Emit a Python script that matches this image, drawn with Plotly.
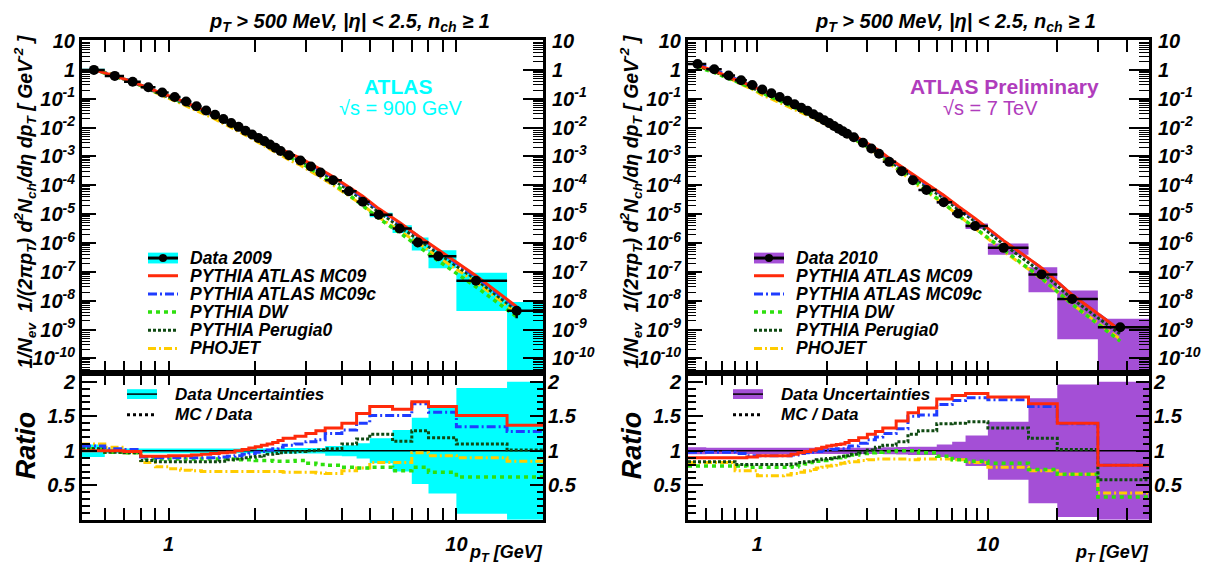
import plotly.graph_objects as go

W, H = 1210, 567

# ---------------- sqrt(s) = 900 GeV (Data 2009) ----------------
edges_900 = [0.5, 0.6, 0.7, 0.8, 0.9, 1.0, 1.1, 1.2, 1.3, 1.4, 1.5, 1.6, 1.7, 1.8, 1.9, 2.0,
             2.1, 2.2, 2.3, 2.4, 2.5, 2.75, 3.0, 3.25, 3.5, 4.0, 4.5, 5.0, 6.0, 7.0, 8.0,
             10.0, 15.0, 20.0]
pt_900 = [0.55, 0.65, 0.75, 0.85, 0.95, 1.05, 1.15, 1.25, 1.35, 1.45, 1.55, 1.65, 1.75, 1.85,
          1.95, 2.05, 2.15, 2.25, 2.35, 2.45, 2.62, 2.87, 3.12, 3.37, 3.73, 4.23, 4.73, 5.37,
          6.35, 7.35, 8.65, 11.7, 16.2]
data_900 = [1.0, 0.62, 0.39, 0.25, 0.165, 0.115, 0.080, 0.055, 0.039, 0.028, 0.020, 0.0145,
            0.0106, 0.0078, 0.0058, 0.0044, 0.0034, 0.0026, 0.0020, 0.00155, 0.0011, 7.2e-4,
            4.5e-4, 2.8e-4, 1.5e-4, 6.2e-5, 2.7e-5, 9.5e-6, 3.2e-6, 1.05e-6, 3.5e-7, 4.9e-8,
            4.5e-9]
syst_900 = [0.09, 0.035, 0.035, 0.035, 0.035, 0.035, 0.035, 0.035, 0.035, 0.035, 0.035, 0.035,
            0.035, 0.035, 0.035, 0.035, 0.035, 0.035, 0.035, 0.035, 0.04, 0.04, 0.04, 0.04,
            0.07, 0.08, 0.11, 0.18, 0.30, 0.48, 0.62, 0.91, 0.999]
stat_900 = [0, 0, 0, 0, 0, 0, 0, 0, 0, 0, 0, 0, 0, 0, 0, 0, 0, 0, 0, 0, 0, 0, 0, 0, 0, 0, 0,
            0.02, 0.03, 0.05, 0.06, 0.12, 0.45]
mc09_900 = [1.00, 1.00, 0.99, 0.92, 0.92, 0.93, 0.93, 0.94, 0.95, 0.96, 0.97, 0.98, 1.00, 1.02,
            1.04, 1.06, 1.08, 1.10, 1.12, 1.15, 1.18, 1.21, 1.25, 1.29, 1.33, 1.40, 1.54, 1.64,
            1.60, 1.71, 1.64, 1.51, 1.37]
mc09c_900 = [1.07, 1.03, 1.02, 0.91, 0.90, 0.90, 0.90, 0.90, 0.90, 0.90, 0.91, 0.92, 0.93, 0.95,
             0.96, 0.98, 0.99, 1.01, 1.03, 1.05, 1.08, 1.10, 1.13, 1.16, 1.25, 1.30, 1.40, 1.51,
             1.51, 1.68, 1.56, 1.35, 1.28]
dw_900 = [1.03, 0.98, 0.97, 0.89, 0.88, 0.88, 0.88, 0.88, 0.88, 0.88, 0.88, 0.88, 0.87, 0.87,
          0.87, 0.86, 0.86, 0.86, 0.85, 0.85, 0.85, 0.86, 0.82, 0.80, 0.79, 0.76, 0.75, 0.76,
          0.71, 0.76, 0.69, 0.62, 0.62]
per0_900 = [1.03, 0.98, 0.97, 0.86, 0.84, 0.84, 0.84, 0.84, 0.84, 0.84, 0.85, 0.87, 0.88, 0.90,
            0.91, 0.92, 0.93, 0.95, 0.96, 0.97, 0.98, 0.99, 1.00, 1.01, 1.03, 1.10, 1.17, 1.24,
            1.14, 1.29, 1.19, 1.10, 1.01]
pho_900 = [1.10, 1.05, 0.97, 0.83, 0.77, 0.74, 0.72, 0.71, 0.70, 0.70, 0.70, 0.70, 0.70, 0.70,
           0.70, 0.70, 0.70, 0.70, 0.70, 0.70, 0.69, 0.69, 0.69, 0.68, 0.67, 0.71, 0.75, 0.83,
           0.83, 0.97, 0.93, 0.90, 0.85]

# ---------------- sqrt(s) = 7 TeV (Data 2010) ----------------
edges_7 = [0.5, 0.6, 0.7, 0.8, 0.9, 1.0, 1.1, 1.2, 1.3, 1.4, 1.5, 1.6, 1.7, 1.8, 1.9, 2.0,
           2.1, 2.2, 2.3, 2.4, 2.5, 2.75, 3.0, 3.25, 3.5, 4.0, 4.5, 5.0, 6.0, 7.0, 8.0,
           10.0, 15.0, 20.0, 30.0, 50.0]
pt_7 = [0.55, 0.65, 0.75, 0.85, 0.95, 1.05, 1.15, 1.25, 1.35, 1.45, 1.55, 1.65, 1.75, 1.85,
        1.95, 2.05, 2.15, 2.25, 2.35, 2.45, 2.62, 2.87, 3.12, 3.37, 3.73, 4.23, 4.73, 5.41,
        6.43, 7.43, 8.8, 11.7, 17.1, 23.2, 37.5]
data_7 = [1.6, 1.05, 0.64, 0.44, 0.30, 0.21, 0.155, 0.115, 0.085, 0.064, 0.049, 0.038, 0.029,
          0.023, 0.018, 0.0143, 0.0114, 0.0092, 0.0075, 0.0061, 0.0046, 0.0030, 0.0019,
          0.00125, 6.5e-4, 3.1e-4, 1.5e-4, 6.9e-5, 2.6e-5, 1.05e-5, 3.9e-6, 6.8e-7, 8.2e-8,
          1.15e-8, 1.2e-9]
syst_7 = [0.05, 0.045, 0.045, 0.045, 0.045, 0.045, 0.045, 0.045, 0.045, 0.045, 0.045, 0.045,
          0.045, 0.045, 0.045, 0.045, 0.045, 0.045, 0.045, 0.045, 0.045, 0.045, 0.045, 0.045,
          0.05, 0.055, 0.06, 0.06, 0.09, 0.13, 0.22, 0.42, 0.76, 0.96, 0.999]
stat_7 = [0, 0, 0, 0, 0, 0, 0, 0, 0, 0, 0, 0, 0, 0, 0, 0, 0, 0, 0, 0, 0, 0, 0, 0, 0, 0, 0,
          0, 0, 0.01, 0.01, 0.02, 0.04, 0.08, 0.15]
mc09_7 = [0.90, 0.90, 0.90, 0.90, 0.91, 0.93, 0.93, 0.93, 0.93, 0.95, 0.97, 0.99, 1.01, 1.03,
          1.05, 1.07, 1.08, 1.09, 1.10, 1.12, 1.15, 1.19, 1.24, 1.28, 1.33, 1.43, 1.55, 1.62,
          1.75, 1.80, 1.83, 1.78, 1.68, 1.40, 0.79]
mc09c_7 = [0.98, 0.98, 0.98, 0.96, 0.93, 0.93, 0.93, 0.93, 0.93, 0.94, 0.96, 0.97, 0.98, 0.99,
           1.00, 1.01, 1.02, 1.03, 1.03, 1.04, 1.07, 1.11, 1.16, 1.20, 1.25, 1.32, 1.50, 1.52,
           1.67, 1.73, 1.77, 1.74, 1.64, 1.39, 0.79]
dw_7 = [0.78, 0.78, 0.78, 0.78, 0.76, 0.76, 0.76, 0.76, 0.76, 0.77, 0.79, 0.81, 0.83, 0.85,
        0.86, 0.88, 0.89, 0.90, 0.91, 0.92, 0.94, 0.96, 0.97, 0.98, 0.99, 1.00, 1.00, 0.97,
        0.92, 0.87, 0.85, 0.82, 0.73, 0.66, 0.33]
per0_7 = [0.84, 0.84, 0.84, 0.80, 0.80, 0.80, 0.80, 0.80, 0.80, 0.81, 0.83, 0.84, 0.85, 0.87,
          0.88, 0.89, 0.90, 0.91, 0.92, 0.93, 0.95, 0.97, 1.01, 1.05, 1.08, 1.13, 1.24, 1.29,
          1.39, 1.40, 1.42, 1.33, 1.18, 1.02, 0.58]
pho_7 = [0.83, 0.83, 0.83, 0.71, 0.71, 0.64, 0.64, 0.64, 0.65, 0.67, 0.69, 0.71, 0.73, 0.75,
         0.76, 0.78, 0.79, 0.81, 0.82, 0.83, 0.84, 0.86, 0.87, 0.88, 0.88, 0.88, 0.87, 0.88,
         0.88, 0.87, 0.83, 0.76, 0.71, 0.66, 0.39]

# y-axis decade labels of the spectrum panels
spec_tickvals = [1e-10, 1e-9, 1e-8, 1e-7, 1e-6, 1e-5, 1e-4, 1e-3, 1e-2, 1e-1, 1, 10]
spec_ticktext = ["10<sup>-10</sup>", "10<sup>-9</sup>", "10<sup>-8</sup>", "10<sup>-7</sup>",
                 "10<sup>-6</sup>", "10<sup>-5</sup>", "10<sup>-4</sup>", "10<sup>-3</sup>",
                 "10<sup>-2</sup>", "10<sup>-1</sup>", "1", "10"]
ratio_tickvals = [0.5, 1.0, 1.5, 2.0]
ratio_ticktext = ["0.5", "1", "1.5", "2"]

# generator styles: (label, colour, dash, width)
RED, BLUE, GREEN, DKGREEN, YELLOW = "#ff2a0a", "#1f3cff", "#2ee00e", "#0f4a12", "#ffcc00"
CYAN, PURPLE, PURPLE_TXT = "#00ffff", "#a44fd6", "#b03cbc"
styles = {
    "mc09": ("PYTHIA ATLAS MC09", RED, "solid", 3),
    "mc09c": ("PYTHIA ATLAS MC09c", BLUE, "9px,3px,2px,3px", 3),
    "dw": ("PYTHIA DW", GREEN, "4px,4px", 3.5),
    "per0": ("PYTHIA Perugia0", DKGREEN, "3px,2px", 3),
    "pho": ("PHOJET", YELLOW, "8px,3px,2px,3px", 3),
}

FONT = "Liberation Sans"
TICKFONT = dict(family=FONT, size=20, color="black", weight="bold", style="italic")


def X(px):
    return px / W


def Y(py):
    return 1 - py / H


def box_outline(edges, centre, rel):
    xs, ys = [], []
    for i, c in enumerate(centre):
        lo, hi = edges[i], edges[i + 1]
        y0, y1 = c * (1 - rel[i]), c * (1 + rel[i])
        xs += [lo, hi, hi, lo, lo, None]
        ys += [y0, y0, y1, y1, y0, None]
    return xs, ys


def minor_log(lo_exp, hi_exp):
    vals = []
    for e in range(lo_exp, hi_exp + 1):
        for m in range(2, 10):
            vals.append(m * 10.0 ** e)
    return vals


fig = go.Figure()

panels = [
    dict(edges=edges_900, pt=pt_900, data=data_900, syst=syst_900, stat=stat_900,
         ratios=dict(mc09=mc09_900, mc09c=mc09c_900, dw=dw_900, per0=per0_900, pho=pho_900),
         band=CYAN, xs=("x", "x2"), ys=("y", "y2")),
    dict(edges=edges_7, pt=pt_7, data=data_7, syst=syst_7, stat=stat_7,
         ratios=dict(mc09=mc09_7, mc09c=mc09c_7, dw=dw_7, per0=per0_7, pho=pho_7),
         band=PURPLE, xs=("x3", "x4"), ys=("y3", "y4")),
]

for p in panels:
    xt, xr = p["xs"]
    yt, yr = p["ys"]
    # total uncertainty boxes on the spectrum
    bx, by = box_outline(p["edges"], p["data"], p["syst"])
    fig.add_trace(go.Scatter(x=bx, y=by, mode="lines", fill="toself", fillcolor=p["band"],
                             line=dict(width=0, color=p["band"]), hoverinfo="skip",
                             showlegend=False, xaxis=xt, yaxis=yt))
    # generator predictions on the spectrum
    for key in ["pho", "per0", "dw", "mc09c", "mc09"]:
        _, col, dash, wid = styles[key]
        mc = [d * r for d, r in zip(p["data"], p["ratios"][key])]
        fig.add_trace(go.Scatter(x=p["pt"], y=mc, mode="lines",
                                 line=dict(color=col, dash=dash, width=wid),
                                 showlegend=False, xaxis=xt, yaxis=yt))
    # data points with bin-width bars
    ex_hi = [p["edges"][i + 1] - x for i, x in enumerate(p["pt"])]
    ex_lo = [x - p["edges"][i] for i, x in enumerate(p["pt"])]
    ey = [d * s for d, s in zip(p["data"], p["stat"])]
    fig.add_trace(go.Scatter(x=p["pt"], y=p["data"], mode="markers",
                             marker=dict(color="black", size=10),
                             error_x=dict(type="data", symmetric=False, array=ex_hi,
                                          arrayminus=ex_lo, color="black", thickness=2.5,
                                          width=0),
                             error_y=dict(type="data", array=ey, color="black", thickness=2.5,
                                          width=0),
                             showlegend=False, xaxis=xt, yaxis=yt))
    # ratio panel: data uncertainty band and unit line
    ones = [1.0 for _ in p["data"]]
    rx, ry = box_outline(p["edges"], ones, p["syst"])
    fig.add_trace(go.Scatter(x=rx, y=ry, mode="lines", fill="toself", fillcolor=p["band"],
                             line=dict(width=0, color=p["band"]), hoverinfo="skip",
                             showlegend=False, xaxis=xr, yaxis=yr))
    fig.add_trace(go.Scatter(x=[p["edges"][0], p["edges"][-1]], y=[1, 1], mode="lines",
                             line=dict(color="black", width=1.5), showlegend=False,
                             xaxis=xr, yaxis=yr))
    # ratio panel: MC / Data histograms
    for key in ["pho", "dw", "per0", "mc09c", "mc09"]:
        _, col, dash, wid = styles[key]
        r = p["ratios"][key]
        fig.add_trace(go.Scatter(x=p["edges"], y=r + [r[-1]], mode="lines",
                                 line=dict(color=col, dash=dash, width=wid, shape="hv"),
                                 showlegend=False, xaxis=xr, yaxis=yr))

# placeholders so the mirrored right-hand label axes are drawn
for xa, ya in [("x", "y5"), ("x2", "y6"), ("x3", "y7"), ("x4", "y8")]:
    fig.add_trace(go.Scatter(x=[None], y=[None], mode="markers", showlegend=False,
                             xaxis=xa, yaxis=ya))

# ---------------- axes ----------------
LEFT_X = [X(82), X(543)]
RIGHT_X = [X(688), X(1149)]
TOP_Y = [Y(370), Y(31)]
RAT_Y = [Y(519), Y(370)]
SPEC_RANGE = [-10.52, 1.02]
RAT_RANGE = [0, 2.12]

frame = dict(showline=True, linecolor="black", linewidth=3, showgrid=False, zeroline=False)


def xaxis(domain, anchor, xmax, labels, minor_vals):
    ax = dict(frame, type="log", domain=domain, anchor=anchor,
              range=[-0.30103, xmax], ticks="inside", ticklen=12, tickwidth=2,
              tickcolor="black", mirror="allticks",
              tickmode="array", tickvals=[1, 10], ticktext=["1", "10"],
              showticklabels=labels, tickfont=TICKFONT, ticklabelstandoff=4,
              minor=dict(tickmode="array", tickvals=minor_vals, ticks="inside", ticklen=6,
                         tickwidth=1.5, tickcolor="black", showgrid=False))
    return ax


def spec_y(domain, anchor):
    return dict(frame, type="log", domain=domain, anchor=anchor, range=SPEC_RANGE,
                ticks="inside", ticklen=14, tickwidth=2, tickcolor="black", mirror=True,
                tickmode="array", tickvals=spec_tickvals, ticktext=spec_ticktext,
                tickfont=TICKFONT,
                minor=dict(tickmode="array", tickvals=minor_log(-11, 0), ticks="inside",
                           ticklen=8, tickwidth=1.2, tickcolor="black", showgrid=False))


def spec_y_right(over, anchor):
    return dict(type="log", overlaying=over, anchor=anchor, side="right", range=SPEC_RANGE,
                showline=False, showgrid=False, zeroline=False,
                ticks="inside", ticklen=20, tickwidth=2, tickcolor="black",
                tickmode="array", tickvals=spec_tickvals, ticktext=spec_ticktext,
                tickfont=TICKFONT, ticklabelstandoff=8,
                minor=dict(tickmode="array", tickvals=minor_log(-11, 0), ticks="inside",
                           ticklen=10, tickwidth=1.2, tickcolor="black", showgrid=False))


def rat_y(domain, anchor):
    return dict(frame, domain=domain, anchor=anchor, range=RAT_RANGE,
                ticks="inside", ticklen=15, tickwidth=2, tickcolor="black", mirror=True,
                tickmode="array", tickvals=ratio_tickvals, ticktext=ratio_ticktext,
                tickfont=TICKFONT,
                minor=dict(dtick=0.1, ticks="inside", ticklen=8, tickwidth=1.5,
                           tickcolor="black", showgrid=False))


def rat_y_right(over, anchor):
    return dict(overlaying=over, anchor=anchor, side="right", range=RAT_RANGE,
                showline=False, showgrid=False, zeroline=False,
                ticks="inside", ticklen=13, tickwidth=2, tickcolor="black",
                tickmode="array", tickvals=ratio_tickvals, ticktext=ratio_ticktext,
                tickfont=TICKFONT, ticklabelstandoff=4,
                minor=dict(dtick=0.1, ticks="inside", ticklen=6, tickwidth=1.5,
                           tickcolor="black", showgrid=False))


minor_x_left = [0.6, 0.7, 0.8, 0.9, 2, 3, 4, 5, 6, 7, 8, 9, 20]
minor_x_right = [0.6, 0.7, 0.8, 0.9, 2, 3, 4, 5, 6, 7, 8, 9, 20, 30, 40, 50]

fig.update_layout(
    width=W, height=H, margin=dict(l=0, r=0, t=0, b=0),
    paper_bgcolor="white", plot_bgcolor="white", showlegend=False,
    font=dict(family=FONT, color="black"),
    xaxis=xaxis(LEFT_X, "y", 1.30103, False, minor_x_left),
    xaxis2=xaxis(LEFT_X, "y2", 1.30103, True, minor_x_left),
    xaxis3=xaxis(RIGHT_X, "y3", 1.69897, False, minor_x_right),
    xaxis4=xaxis(RIGHT_X, "y4", 1.69897, True, minor_x_right),
    yaxis=spec_y(TOP_Y, "x"),
    yaxis2=rat_y(RAT_Y, "x2"),
    yaxis3=spec_y(TOP_Y, "x3"),
    yaxis4=rat_y(RAT_Y, "x4"),
    yaxis5=spec_y_right("y", "x"),
    yaxis6=rat_y_right("y2", "x2"),
    yaxis7=spec_y_right("y3", "x3"),
    yaxis8=rat_y_right("y4", "x4"),
)

# ---------------- text ----------------
BI = dict(family=FONT, color="black", weight="bold", style="italic")
ann = []


def text(px, py, s, size, xanchor="center", font=None, angle=0):
    f = dict(font or BI)
    f["size"] = size
    ann.append(dict(x=X(px), y=Y(py), xref="paper", yref="paper", text=s, showarrow=False,
                    xanchor=xanchor, yanchor="middle", font=f, textangle=angle))


title = "p<sub>T</sub> &gt; 500 MeV, |η| &lt; 2.5, n<sub>ch</sub> ≥ 1"
ytitle = ("1/N<sub>ev</sub>  1/(2πp<sub>T</sub>) d<sup>2</sup>N<sub>ch</sub>/dη dp<sub>T</sub>"
          " [ GeV<sup>-2</sup> ]")

for off, x0, x1 in [(0, 82, 543), (606, 688, 1149)]:
    text(349 + off, 13, title, 20)
    text(25 + off, 195, ytitle, 19.5, angle=-90)
    text(26 + off, 443, "Ratio", 27, angle=-90)
    text(x1 + 2, 553, "p<sub>T</sub> [GeV]", 18, xanchor="right")

text(398, 78, "ATLAS", 21, font=dict(family=FONT, color=CYAN, weight="bold"))
text(400, 100, "√s = 900 GeV", 20, font=dict(family=FONT, color=CYAN))
text(1004, 78, "ATLAS Preliminary", 21, font=dict(family=FONT, color=PURPLE_TXT, weight="bold"))
text(990, 100, "√s = 7 TeV", 20, font=dict(family=FONT, color=PURPLE_TXT))

# ---------------- legends ----------------
shapes = []


def seg(x0, x1, y, col, dash, wid):
    shapes.append(dict(type="line", xref="paper", yref="paper", x0=X(x0), x1=X(x1),
                       y0=Y(y), y1=Y(y), line=dict(color=col, dash=dash, width=wid)))


def rect(x0, x1, y0, y1, col):
    shapes.append(dict(type="rect", xref="paper", yref="paper", x0=X(x0), x1=X(x1),
                       y0=Y(y1), y1=Y(y0), fillcolor=col, line=dict(width=0)))


def dot(xc, yc, r):
    shapes.append(dict(type="circle", xref="paper", yref="paper", x0=X(xc - r), x1=X(xc + r),
                       y0=Y(yc + r), y1=Y(yc - r), fillcolor="black", line=dict(width=0)))


for off, band, label in [(0, CYAN, "Data 2009"), (606, PURPLE, "Data 2010")]:
    sx0, sx1, tx = 148 + off, 178 + off, 188 + off
    rect(sx0, sx1, 247, 258, band)
    seg(sx0, sx1, 252.5, "black", "solid", 3)
    dot((sx0 + sx1) / 2, 252.5, 4)
    text(tx, 252, label, 17.5, xanchor="left")
    for i, key in enumerate(["mc09", "mc09c", "dw", "per0", "pho"]):
        name, col, dash, wid = styles[key]
        yy = 270.5 + i * 18.5
        seg(sx0, sx1, yy, col, dash, wid)
        text(tx, yy, name, 17.5, xanchor="left")
    # ratio legend
    rx0, rx1, rtx = 127 + off, 157 + off, 173 + off
    rect(rx0, rx1, 386, 396, band)
    seg(rx0, rx1, 391, "black", "solid", 1.5)
    text(rtx, 391, "Data Uncertainties", 17, xanchor="left")
    seg(rx0, rx1, 412, "black", "3px,3px", 3)
    text(rtx, 412, "MC / Data", 17, xanchor="left")

fig.update_layout(annotations=ann, shapes=shapes)
fig.write_html("out.html")
